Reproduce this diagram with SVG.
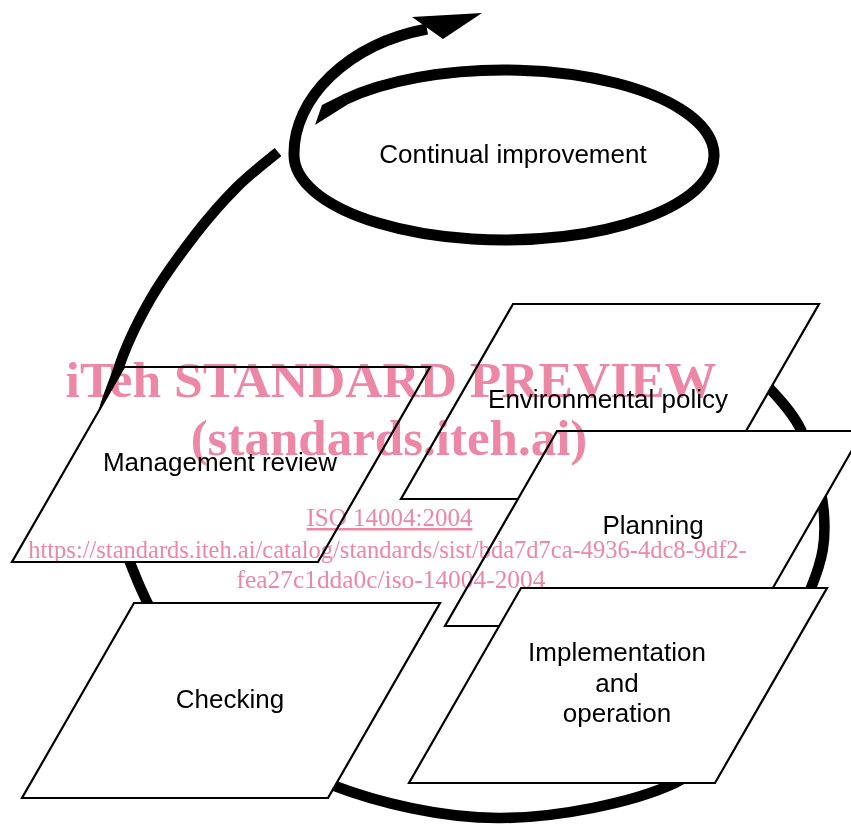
<svg xmlns="http://www.w3.org/2000/svg" width="851" height="824" viewBox="0 0 851 824">
<style>
.box{fill:#fff;stroke:#000;stroke-width:2.2;stroke-linejoin:miter}
.lbl{font-family:"Liberation Sans",Arial,sans-serif;font-size:26px;fill:#000;text-anchor:middle}
.band{fill:none;stroke:#000;stroke-linecap:butt;stroke-linejoin:round}
.wm{font-family:"Liberation Serif","Times New Roman",serif;fill:#ec87a6;text-anchor:middle}
.wmb{font-weight:bold}
</style>
<rect width="851" height="824" fill="#fff"/>
<g id="connectors">
  <path id="cycle-arc" class="band" stroke-width="10.5" d="M758,376 C765.2,385 790,406.8 801,430 C812,453.2 822.3,488.7 824,515 C825.7,541.3 823.3,557.2 811,588 C798.7,618.8 772.7,667.5 750,700 C727.3,732.5 716.7,763.3 675,783 C633.3,802.7 557.2,817.7 500,818 C442.8,818.3 377.8,802.7 332,785 C286.2,767.3 256,742.8 225,712 C194,681.2 166.7,642.8 146,600 C125.3,557.2 105.7,493.3 101,455 C96.3,416.7 109.8,395.8 118,370 C126.2,344.2 137.2,322.5 150,300 C162.8,277.5 180.5,253.8 195,235 C209.5,216.2 223.2,200.8 237,187 C250.8,173.2 271.2,157.8 278,152"/>
  <path id="improvement-loop" class="band" stroke-width="11" d="M345,99.5 A210,85 0 1 1 294,155 C293,98 348,44 427,29"/>
  <polygon points="343,94.5 322,105 315,125 347.5,104.5" fill="#000"/>
  <polygon points="482,13 412,17 443,39" fill="#000"/>
</g>
<g id="node-continual">
  <text class="lbl" x="513" y="163">Continual improvement</text>
</g>
<g id="node-policy">
  <polygon class="box" points="513,304 819,304 707,499 401,499"/>
  <text class="lbl" x="608" y="408">Environmental policy</text>
</g>
<g id="node-planning">
  <polygon class="box" points="557,431 863,431 751,626 445,626"/>
  <text class="lbl" x="653" y="534">Planning</text>
</g>
<g id="node-implementation">
  <polygon class="box" points="521,588 827,588 715,783 409,783"/>
  <text class="lbl" x="617" y="661">Implementation</text>
  <text class="lbl" x="617" y="692">and</text>
  <text class="lbl" x="617" y="722">operation</text>
</g>
<g id="node-management">
  <polygon class="box" points="124,367 430,367 318,562 12,562"/>
  <text class="lbl" x="220" y="471">Management review</text>
</g>
<g id="node-checking">
  <polygon class="box" points="134,603 440,603 328,798 22,798"/>
  <text class="lbl" x="230" y="708">Checking</text>
</g>
<g id="watermark" style="mix-blend-mode:multiply">
  <text class="wm wmb" x="391" y="397" style="font-size:51.6px">iTeh STANDARD PREVIEW</text>
  <text class="wm wmb" x="389" y="455" style="font-size:51px">(standards.iteh.ai)</text>
  <text class="wm" x="389.5" y="526" style="font-size:25px" text-decoration="underline">ISO 14004:2004</text>
  <text class="wm" x="387.5" y="558" style="font-size:24.5px">https://standards.iteh.ai/catalog/standards/sist/bda7d7ca-4936-4dc8-9df2-</text>
  <text class="wm" x="391" y="588" style="font-size:25.4px">fea27c1dda0c/iso-14004-2004</text>
</g>
</svg>
